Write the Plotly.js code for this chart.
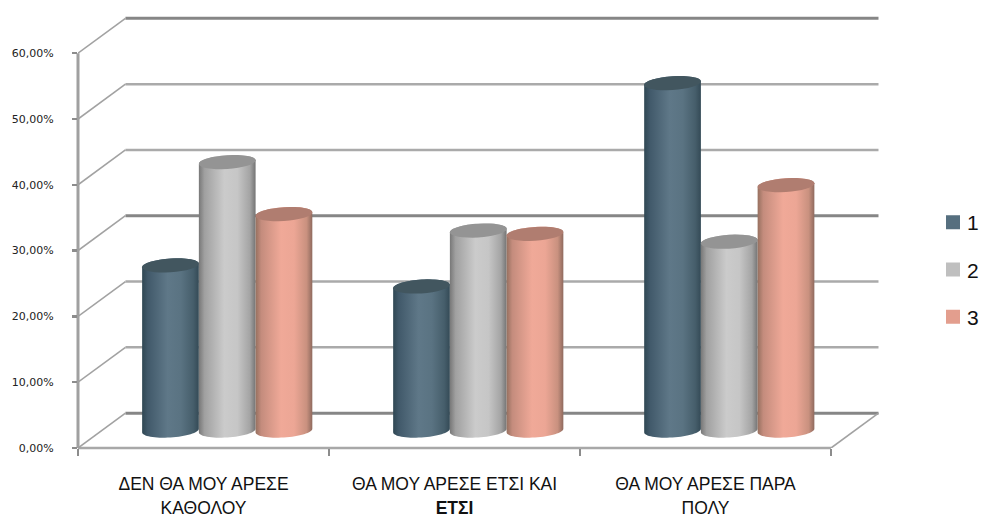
<!DOCTYPE html>
<html><head><meta charset="utf-8">
<script src="https://cdn.plot.ly/plotly-3.0.0.min.js"></script>
<style>html,body{margin:0;padding:0;background:#fff}</style></head>
<body><div id="chart" style="width:982px;height:519px"></div>
<script>
const categories = ["ΔΕΝ ΘΑ ΜΟΥ ΑΡΕΣΕ<br>ΚΑΘΟΛΟΥ", "ΘΑ ΜΟΥ ΑΡΕΣΕ ΕΤΣΙ ΚΑΙ<br><b>ΕΤΣΙ</b>", "ΘΑ ΜΟΥ ΑΡΕΣΕ ΠΑΡΑ<br>ΠΟΛΥ"];
const seriesNames = ["1", "2", "3"];
const series1 = [25.1, 21.9, 52.8];
const series2 = [40.8, 30.4, 28.7];
const series3 = [32.9, 29.9, 37.3];
const yTicks = [0, 10, 20, 30, 40, 50, 60];
const flatColors = ["#566f7f", "#bfbfbf", "#e39e8e"];
const capColors = ["#42565f", "#949494", "#b07d70"];
const bodyScales = [
  ["#2f4753", "#41596a", "#5f7888", "#5a7382", "#465e6b", "#344a56"],
  ["#787878", "#a0a0a0", "#cbcbcb", "#c6c6c6", "#a4a4a4", "#747474"],
  ["#96705f", "#c48c7d", "#f0a998", "#eca695", "#c9917f", "#8f6a5e"]
];
const allSeries = [series1, series2, series3];

// 3-D look: depth of the floor expressed in axis units
const DX = 0.189, DY = 5.3, BAR_W = 0.226, CAP_H = 1.05, TILT = 0.27;
const traces = [];
allSeries.forEach((vals, s) => {
  traces.push({
    type: "bar", name: seriesNames[s], legendgroup: seriesNames[s],
    x: vals.map((_, i) => i + DX / 2 + (s - 1) * BAR_W),
    y: vals, base: vals.map(() => DY / 2), width: BAR_W * 0.85,
    marker: {color: flatColors[s], line: {color: flatColors[s], width: 2}},
    hoverinfo: "x+y"
  });
});
const stops = [0, 0.1, 0.45, 0.68, 0.9, 1];
const N = 32;
function arc(xc, yc, a0, a1) {
  const xs = [], ys = [];
  for (let k = 0; k <= N; k++) {
    const t = a0 + (a1 - a0) * k / N;
    xs.push(xc + BAR_W / 2 * Math.cos(t));
    ys.push(yc + CAP_H * Math.sin(t) + TILT * Math.cos(t));
  }
  return [xs, ys];
}
categories.forEach((_, i) => {
  allSeries.forEach((vals, s) => {
    const xc = i + DX / 2 + (s - 1) * BAR_W;
    const yb = DY / 2, yt = yb + vals[i];
    const [bx, by] = arc(xc, yb, Math.PI, 2 * Math.PI);
    const [tx, ty] = arc(xc, yt, 0, Math.PI);
    traces.push({
      type: "scatter", mode: "none", fill: "toself", showlegend: false, hoverinfo: "skip",
      x: bx.concat(tx), y: by.concat(ty),
      fillgradient: {type: "horizontal", colorscale: stops.map((p, j) => [p, bodyScales[s][j]])}
    });
    const [cx, cy] = arc(xc, yt, 0, 2 * Math.PI);
    traces.push({
      type: "scatter", mode: "none", fill: "toself", showlegend: false, hoverinfo: "skip",
      x: cx, y: cy, fillcolor: capColors[s]
    });
  });
});

const X0 = -0.5, X1 = categories.length - 0.5;
const strong = v => v % 30 === 0;
const shapes = [];
yTicks.forEach(v => {
  shapes.push({type: "line", layer: "below", xref: "x", yref: "y", x0: X0 + DX, x1: X1 + DX, y0: v + DY, y1: v + DY,
    line: {color: strong(v) ? "#868686" : "#aaaaaa", width: strong(v) ? 3 : 2.5}});
  shapes.push({type: "line", layer: "below", xref: "x", yref: "y", x0: X0, x1: X0 + DX, y0: v, y1: v + DY,
    line: {color: "#a2a2a2", width: 1.6}});
});
shapes.push({type: "line", layer: "below", xref: "x", yref: "y", x0: X1, x1: X1 + DX, y0: 0, y1: DY, line: {color: "#a2a2a2", width: 1.6}});
shapes.push({type: "line", layer: "below", xref: "paper", yref: "y", x0: 0, x1: 0, y0: 0, y1: 60, line: {color: "#a0a0a0", width: 3}});
shapes.push({type: "line", layer: "below", xref: "x", yref: "paper", x0: X0, x1: X1, y0: 0, y1: 0, line: {color: "#a8a8a8", width: 2.5}});

const layout = {
  width: 982, height: 519, paper_bgcolor: "#fff", plot_bgcolor: "rgba(0,0,0,0)",
  margin: {l: 77.5, r: 102, t: 14, b: 71, autoexpand: false},
  barmode: "overlay", separators: ",.", shapes,
  font: {family: "DejaVu Sans, sans-serif", color: "#222"},
  xaxis: {
    type: "linear", range: [X0, 2.695], showgrid: false, zeroline: false, showline: false,
    tickmode: "array", tickvals: categories.map((_, i) => i),
    ticktext: categories.map(c => c.split("<br>").map(t => '<span style="font-size:17.5px">' + t + "</span>").join("<br>")),
    ticks: "", tickangle: 0, ticklabelstandoff: 22,
    tickfont: {family: "Liberation Sans, sans-serif", size: 18.5, color: "#111"},
    minor: {tickmode: "array", tickvals: [-0.5, 0.5, 1.5, 2.5], ticks: "outside", ticklen: 7, tickwidth: 1.5, tickcolor: "#8c8c8c", showgrid: false}
  },
  yaxis: {
    range: [0, 65.96], showgrid: false, zeroline: false, showline: false,
    tickmode: "linear", tick0: 0, dtick: 10, tickformat: ".2f", ticksuffix: "%",
    ticks: "outside", ticklen: 5, tickwidth: 2.5, tickcolor: "#8c8c8c", ticklabelstandoff: 16,
    tickfont: {family: "DejaVu Sans, sans-serif", size: 11, color: "#222"}
  },
  showlegend: true,
  legend: {xref: "container", yref: "container", x: 933 / 982, y: 1 - 202 / 519, xanchor: "left", yanchor: "top",
    traceorder: "grouped", tracegroupgap: 17, bgcolor: "rgba(0,0,0,0)", borderwidth: 0,
    font: {family: "Liberation Sans, sans-serif", size: 21, color: "#111"}}
};
Plotly.newPlot("chart", traces, layout, {displayModeBar: false, staticPlot: true}).then(() => {
  document.querySelectorAll(".legendtext").forEach(t => t.setAttribute("x", 34));
});
</script></body></html>
